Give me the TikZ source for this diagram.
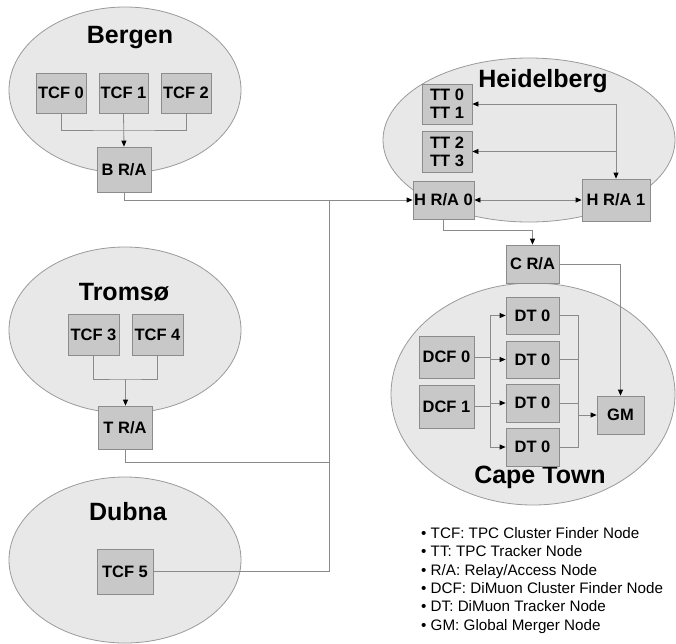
\documentclass[tikz,border=0pt]{standalone}
\usepackage{fontspec}
\setmainfont{Liberation Sans}
\usetikzlibrary{arrows.meta,calc}
\definecolor{ellfill}{HTML}{E8E8E8}
\definecolor{elldraw}{HTML}{9A9A9A}
\definecolor{boxfill}{HTML}{C8C8C8}
\definecolor{boxdraw}{HTML}{8C8C8C}
\definecolor{linecol}{HTML}{8A8A8A}
\begin{document}
\begin{tikzpicture}[x=1pt,y=-1pt,
  site/.style={draw=elldraw,fill=ellfill,line width=0.8pt},
  sitelabel/.style={font=\bfseries\fontsize{25}{28}\selectfont,inner sep=0pt},
  unit/.style={draw=boxdraw,fill=boxfill,line width=0.8pt,inner sep=0pt,
    font=\bfseries\fontsize{16.5}{18}\selectfont,align=center},
  conn/.style={draw=linecol,line width=0.8pt},
  >={Triangle[length=6pt,width=5pt,color=black]},
  legend/.style={anchor=base west,inner sep=0pt,font=\fontsize{15.2}{17}\selectfont}]
\useasboundingbox (0,0) rectangle (676,643);
% sites
\draw[site] (125,90) ellipse [x radius=116, y radius=83];
\draw[site] (125,330) ellipse [x radius=116, y radius=83];
\draw[site] (125,560) ellipse [x radius=116, y radius=83];
\draw[site] (529,140) ellipse [x radius=146, y radius=82];
\draw[site] (533,394) ellipse [x radius=142, y radius=111];
\node[sitelabel] (lbergen) at (130,38) {Bergen};
\node[sitelabel] (ltromso) at (124,292) {Tromsø};
\node[sitelabel] (ldubna) at (128,512) {Dubna};
\node[sitelabel] (lheid) at (543,81) {Heidelberg};
\node[sitelabel] (lcape) at (540,477) {Cape Town};
% boxes
\node[unit,minimum width=50,minimum height=40] (tcf0) at (61,93) {TCF 0};
\node[unit,minimum width=49,minimum height=40] (tcf1) at (123.5,93) {TCF 1};
\node[unit,minimum width=50,minimum height=40] (tcf2) at (186,93) {TCF 2};
\node[unit,minimum width=54,minimum height=45] (bra) at (124,169.5) {B R/A};
\node[unit,minimum width=51,minimum height=41] (tcf3) at (93.5,334.5) {TCF 3};
\node[unit,minimum width=51,minimum height=41] (tcf4) at (157.5,334.5) {TCF 4};
\node[unit,minimum width=54,minimum height=43] (tra) at (125,427.5) {T R/A};
\node[unit,minimum width=56,minimum height=45] (tcf5) at (125,571.5) {TCF 5};
\node[unit,minimum width=50,minimum height=40] (tt01) at (447,104) {TT 0\\TT 1};
\node[unit,minimum width=50,minimum height=41] (tt23) at (447,151.5) {TT 2\\TT 3};
\node[unit,minimum width=61,minimum height=38] (hra0) at (443.5,200) {H R/A 0};
\node[unit,minimum width=68,minimum height=42] (hra1) at (616,200) {H R/A 1};
\node[unit,minimum width=53,minimum height=38] (cra) at (532.5,264) {C R/A};
\node[unit,minimum width=53,minimum height=37] (dt1) at (532.5,315.5) {DT 0};
\node[unit,minimum width=53,minimum height=37] (dt2) at (532.5,359.5) {DT 0};
\node[unit,minimum width=53,minimum height=38] (dt3) at (532.5,403) {DT 0};
\node[unit,minimum width=53,minimum height=38] (dt4) at (532.5,447) {DT 0};
\node[unit,minimum width=55,minimum height=42] (dcf0) at (446.5,357) {DCF 0};
\node[unit,minimum width=55,minimum height=43] (dcf1) at (446.5,406.5) {DCF 1};
\node[unit,minimum width=47,minimum height=38] (gm) at (620.5,415) {GM};
% junction coordinates
\coordinate (bj) at (124,130);
\coordinate (tj) at (125.5,379);
\coordinate (jn) at (329,200);
\coordinate (hj) at (616,104);
\coordinate (lb) at (490,0);
\coordinate (rb) at (578,0);
% Bergen
\draw[conn] (tcf0.south) |- (bj) -| (tcf2.south);
\draw[conn,->] (tcf1.south) -- (bra.north);
\draw[conn,->] (bra.south) |- (hra0.west);
% Tromso
\draw[conn] (tcf3.south) |- (tj) -| (tcf4.south);
\draw[conn,->] (tj) -- (tj |- tra.north);
\draw[conn] (tra.south) |- (jn |- 0,462);
% Dubna
\draw[conn] (tcf5.east) -| (jn);
% Heidelberg
\draw[conn,->] (hj) -- (tt01.east);
\draw[conn,->] (hj) -- (hra1.north);
\draw[conn,->] (hra1.north |- tt23.east) -- (tt23.east);
\draw[conn,<->] (hra0.east) -- (hra1.west);
\draw[conn,->] (hra0.south) -- ++(0,11) -| (cra.north);
% Cape Town
\draw[conn,->] (cra.east) -| (gm.north);
\draw[conn] (dcf0.east) -- (dcf0.east -| lb);
\draw[conn] (dcf1.east) -- (dcf1.east -| lb);
\draw[conn] (dt1.west -| lb) -- (dt4.west -| lb);
\draw[conn,->] (dt1.west -| lb) -- (dt1.west);
\draw[conn,->] (dt2.west -| lb) -- (dt2.west);
\draw[conn,->] (dt3.west -| lb) -- (dt3.west);
\draw[conn,->] (dt4.west -| lb) -- (dt4.west);
\draw[conn] (dt1.east) -- (dt1.east -| rb) -- (dt4.east -| rb) -- (dt4.east);
\draw[conn] (dt2.east) -- (dt2.east -| rb);
\draw[conn] (dt3.east) -- (dt3.east -| rb);
\draw[conn,->] (gm.west -| rb) -- (gm.west);
% legend
\node[legend] (leg1) at (421,538) {• TCF: TPC Cluster Finder Node};
\node[legend] (leg2) at (421,556.5) {• TT: TPC Tracker Node};
\node[legend] (leg3) at (421,575) {• R/A: Relay/Access Node};
\node[legend] (leg4) at (421,593) {• DCF: DiMuon Cluster Finder Node};
\node[legend] (leg5) at (421,611.5) {• DT: DiMuon Tracker Node};
\node[legend] (leg6) at (421,630) {• GM: Global Merger Node};
\end{tikzpicture}
\end{document}
